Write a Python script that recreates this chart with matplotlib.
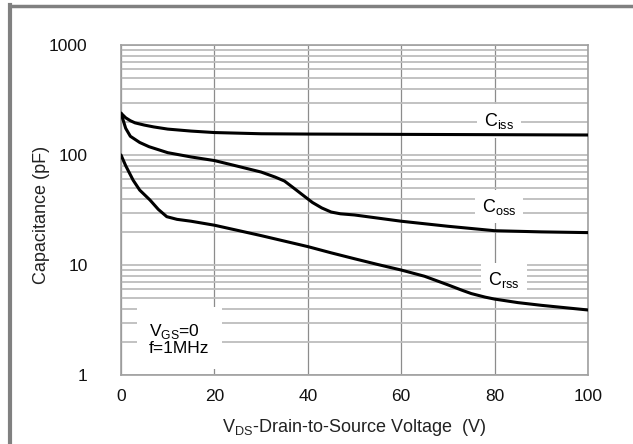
import matplotlib
matplotlib.use("Agg")
import matplotlib.pyplot as plt
from matplotlib.lines import Line2D
from matplotlib.ticker import NullFormatter, LogLocator

plt.rcParams['font.family'] = ['Liberation Sans', 'DejaVu Sans']

# Data
ciss_v = [0, 1, 2, 3, 5, 7, 10, 15, 20, 30, 40, 60, 80, 100]
ciss_c = [240, 218, 205, 196, 187, 180, 172, 165, 160, 156, 155, 154, 153, 152]

coss_v = [0, 1, 2, 4, 6, 10, 15, 20, 25, 30, 33, 35, 37, 39, 41, 43, 45, 47, 50, 60, 70, 80, 90, 100]
coss_c = [240, 175, 148, 130, 119, 105, 96, 89, 79, 70, 63, 58, 50, 43, 37, 33, 30.3, 29.2, 28.5, 25, 22.5, 20.5, 20, 19.7]

crss_v = [0, 1, 2.6, 4, 6.2, 8, 9.8, 12, 15, 20, 30, 40, 45, 50, 55, 60, 65, 70, 73, 75, 78, 80, 85, 90, 100]
crss_c = [100, 80, 59, 48, 39, 32, 27.5, 26, 25, 23, 18.5, 14.7, 12.9, 11.4, 10.1, 9.0, 7.9, 6.6, 5.9, 5.5, 5.1, 4.9, 4.55, 4.3, 3.9]

x_ticks = [0, 20, 40, 60, 80, 100]
y_ticks = [1, 10, 100, 1000]
y_ticklabels = ["1", "10", "100", "1000"]

W, H = 633, 444
fig = plt.figure(figsize=(W / 100, H / 100), dpi=100)
ax = fig.add_axes([121 / W, 1 - 375 / H, (588 - 121) / W, (375 - 45) / H])

ax.set_yscale('log')
ax.set_xlim(0, 100)
ax.set_ylim(1, 1000)

# grid
ax.yaxis.set_minor_locator(LogLocator(base=10, subs=range(2, 10)))
ax.yaxis.set_minor_formatter(NullFormatter())
ax.grid(True, which='both', axis='y', color='#bdbdbd', linewidth=1.3)
ax.grid(True, which='major', axis='x', color='#8c8c8c', linewidth=0.9)
ax.set_axisbelow(True)

lk = dict(color='black', linewidth=2.2, solid_capstyle='round', solid_joinstyle='round', zorder=3)
ax.plot(ciss_v, ciss_c, **lk)
ax.plot(coss_v, coss_c, **lk)
ax.plot(crss_v, crss_c, **lk)

ax.set_xticks(x_ticks)
ax.set_xticklabels([str(t) for t in x_ticks])
ax.set_yticks(y_ticks)
ax.set_yticklabels(y_ticklabels)
ax.tick_params(axis='both', which='both', length=0, labelsize=12.5, colors='#111111')
ax.tick_params(axis='y', pad=24)
ax.tick_params(axis='x', pad=10)

for s in ax.spines.values():
    s.set_color('#a0a0a0')
    s.set_linewidth(1.2)

ax.set_ylabel('Capacitance (pF)', fontsize=13, color='#222222')
ax.yaxis.set_label_coords(42 / W, 1 - 215 / H, transform=fig.transFigure)
ax.set_xlabel(r'V$_{\mathregular{DS}}$-Drain-to-Source Voltage  (V)', fontsize=13, color='#222222')
ax.xaxis.set_label_coords(354.5 / W, 1 - 427 / H, transform=fig.transFigure)
ax.xaxis.label.set_va('center')
ax.yaxis.label.set_va('center')

bb = dict(facecolor='white', edgecolor='none', pad=5)
ax.text(81, 205, r'C$_{\mathregular{iss}}$', fontsize=13, ha='center', va='center', bbox=bb, zorder=2)
ax.text(81, 34, r'C$_{\mathregular{oss}}$', fontsize=13, ha='center', va='center', bbox=bb, zorder=2)
ax.text(82, 7.3, r'C$_{\mathregular{rss}}$', fontsize=13, ha='center', va='center', bbox=bb, zorder=2)
ax.text(6.0, 2.12, 'V$_{\\mathregular{GS}}$=0\nf=1MHz', fontsize=12.5, ha='left', va='center',
        linespacing=1.05, bbox=dict(facecolor='white', edgecolor='none', pad=9), zorder=2)

# outer border (top and left)
fig.add_artist(Line2D([10 / W, 1.0], [1 - 6.5 / H, 1 - 6.5 / H], color='#808080', linewidth=2.5, transform=fig.transFigure))
fig.add_artist(Line2D([10 / W, 10 / W], [0, 1 - 5 / H], color='#808080', linewidth=3, transform=fig.transFigure))

fig.savefig('out.png', dpi=100)
